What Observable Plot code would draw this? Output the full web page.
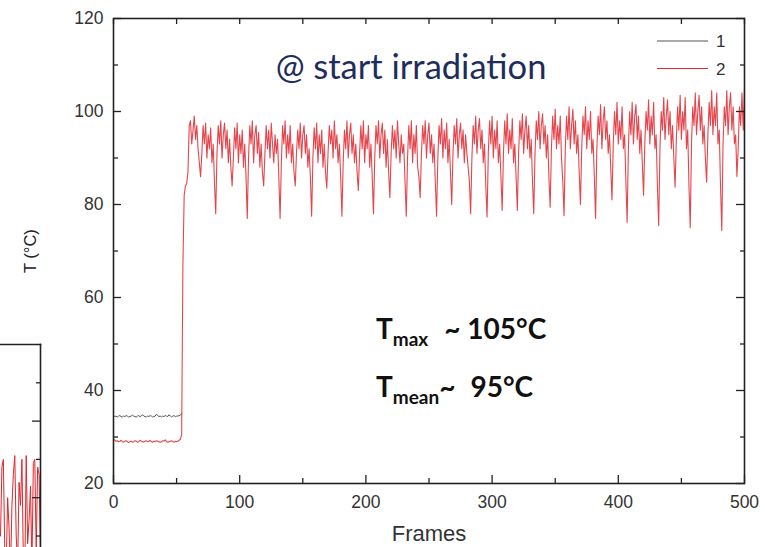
<!DOCTYPE html>
<html><head><meta charset="utf-8">
<script src="https://cdn.jsdelivr.net/npm/d3@7"></script>
<script src="https://cdn.jsdelivr.net/npm/@observablehq/plot@0.6"></script>
<style>
body{margin:0;background:#fff;}
#wrap{position:relative;width:765px;height:547px;overflow:hidden;font-family:"Liberation Sans",Arial,sans-serif;}
#wrap > svg{position:absolute;}
.ann{position:absolute;font-family:Lato,"Open Sans",sans-serif;font-weight:bold;color:#111;font-size:28px;white-space:nowrap;line-height:1;}
.ann sub{font-size:19px;vertical-align:-0.36em;line-height:0;}
</style></head><body><div id="wrap"></div>
<script>
// ---- data ----
const seriesNames = ["1", "2"];
const seriesColors = ["#555555", "#e0262e"];
const xMajor = [0, 100, 200, 300, 400, 500];
const xMinor = [50, 150, 250, 350, 450];
const yMajor = [20, 40, 60, 80, 100, 120];
const yMinor = [30, 50, 70, 90, 110];

// series 1 (frames 0..54)
const black = [34.6,34.4,34.5,34.3,34.5,34.6,34.4,34.3,34.5,34.4,34.6,34.5,34.3,34.4,34.5,34.7,34.5,34.4,34.3,34.5,34.6,34.4,34.5,34.8,34.5,34.4,34.3,34.5,34.4,34.6,34.5,34.3,34.4,34.5,34.9,34.6,34.4,34.5,34.3,34.5,34.4,34.6,34.5,34.4,34.8,34.5,34.3,34.5,34.6,34.4,34.5,34.5,34.6,34.7,35.0];
// series 2, frames 0..54 (before irradiation)
const redPre = [29.6,29.3,29.1,29.2,29.0,29.1,29.3,29.0,28.9,29.1,29.2,29.0,28.8,29.0,29.1,28.9,29.0,29.2,29.1,28.9,29.0,29.3,29.1,29.0,28.9,29.1,29.2,29.0,29.1,29.3,29.0,28.9,29.1,29.0,29.2,29.1,29.0,28.9,29.0,29.2,29.1,29.4,29.0,28.9,29.0,29.1,29.2,29.0,28.9,29.1,29.0,29.1,29.3,29.5,30.5];
// series 2, frames 55..500
const redPost = [
67,82,84,84.5,87,97,98,93,96,99,94,97,92,89,
86,91,97,93,97.5,90,95,92,96.5,89,93,85,
78,91,97,93,98,90,95,97.5,92,96,89,94,88,
84,90,96.5,92,97.5,89,95,91,96,88,93,86,
77,90,97,93,98,89,95,97,91,95.5,88,93,87,
84,91,97,92,96,90,97.5,93,89,95,91,94,86,
77,89,97,93,98,90,95,91,97,89,93,87,
84,91,96,92,97.5,90,95,97,91,95,88,92,86,
77.5,90,96.5,92,97.5,89,95,91,96,88,93,87,
83.5,91,97,93,96,90,98,92,95,89,93,86,
77.5,89,96,92,98,90,95,97.5,91,95,89,93,87,
83,91,97,92,98,89,95,92,97,88,93,86,
78,90,97,93,98,90,95,97.5,91,96,88,94,87,
81.5,91,97,92,96,90,98,93,89,95,91,93,85,
77.5,90,97,92,98,89,95,91,97,88,86,
81.5,91,97,93,98,90,95,97.5,91,95,89,93,85,
77.5,90,97,93,98.5,90,96,92,97.5,89,94,87,
80,91,97,93,98.5,90,95,97.5,92,96,89,95,91,88,85,
78,90,97,93,99,91,96,98.5,92,96,89,93,84,
77.3,91,98,93,99,90,96,92,98,89,93,86,
78.7,91,98,93,99.5,91,96,92,98.5,89,93,86,
78.7,91,98,94,99.5,91,96,99,92,97,90,94,85,
78,91,98,94,100,92,97,99.5,93,97,90,95,86,
79.4,92,99,94,100.5,92,97,93,99,90,85,
77.6,92,99,94,101,92,97,100.5,93,98,91,95,87,
80,92,99,95,101,92,98,94,100,91,94,86,
77,92,99,95,101.5,92,98,101,94,98,91,95,88,
81,93,100,95,102,93,98,94,101,92,95,85,
76.2,92,100,95,102,93,99,101.5,94,99,91,96,89,
82,93,100,96,102.5,93,99,95,102,92,95,84,
75.5,92,100,96,103,94,99,102.5,95,100,92,97,90,
83.7,94,101,96,103.5,94,100,96,103,92,96,84,
75,93,101,97,104,95,100,103.5,96,101,93,97,90,
84.8,95,102,97,104.5,95,101,97,104,93,96,84,
74.4,93,101,97,104.5,95,101,104,96,101,93,95,86,
92,101,97,104,96,105];

// fragment of the neighbouring chart (bottom-left edge)
const leftT = [70,88,90,66,62,80,72,60,78,86,91,70,62,84,78,90,64,60,91,68,74,83,62,89,90,66,88,86,64];
const leftMajor = [80, 100];
const leftMinor = [70, 90, 110];

// ---- build tables ----
const s1 = black.map((t, i) => ({frame: i, t, s: seriesNames[0]}));
const s2 = redPre.concat(redPost).map((t, i) => ({frame: i, t, s: seriesNames[1]}));
const leftData = leftT.map((t, i) => ({i, t}));

const wrap = document.getElementById("wrap");
const axisColor = "#222";
const noText = () => "";
const tk = {stroke: axisColor, strokeWidth: 1.3, tickFormat: noText};

const main = Plot.plot({
  width: 765, height: 547,
  marginLeft: 113, marginRight: 21, marginTop: 18, marginBottom: 64,
  style: {fontFamily: "Liberation Sans, Arial, sans-serif", background: "transparent"},
  x: {domain: [0, 500], label: null},
  y: {domain: [20, 120], label: null},
  marks: [
    Plot.line(s1, {x: "frame", y: "t", stroke: seriesColors[0], strokeWidth: 1}),
    Plot.line(s2, {x: "frame", y: "t", stroke: seriesColors[1], strokeWidth: 1.1, strokeOpacity: 0.85}),
    Plot.frame({stroke: axisColor, strokeWidth: 1.6}),
    Plot.axisX(xMajor, {...tk, anchor: "bottom", tickSize: 8, dy: -8}),
    Plot.axisX(xMinor, {...tk, anchor: "bottom", tickSize: 5, dy: -5}),
    Plot.axisX(xMajor.concat(xMinor), {...tk, anchor: "top", tickSize: 5, dy: 5}),
    Plot.axisY(yMajor, {...tk, anchor: "left", tickSize: 8, dx: 8}),
    Plot.axisY(yMinor, {...tk, anchor: "left", tickSize: 5, dx: 5}),
    Plot.axisY(yMajor, {...tk, anchor: "right", tickSize: 9, dx: -9}),
    Plot.axisY(yMinor, {...tk, anchor: "right", tickSize: 5, dx: -5}),
    Plot.axisX(xMajor, {anchor: "bottom", tickSize: 0, tickPadding: 12, fontSize: 17.5, fill: "#333"}),
    Plot.axisY(yMajor, {anchor: "left", tickSize: 0, tickPadding: 10, fontSize: 17.5, fill: "#333"}),
    Plot.text(["T (°C)"], {frameAnchor: "left", dx: -83, dy: 22, rotate: -90, fontSize: 16.5, fill: "#222"}),
    Plot.text(["Frames"], {frameAnchor: "bottom", dy: 57, fontSize: 22, fill: "#333"}),
    Plot.text(["@ start irradiation"], {frameAnchor: "top", dx: -18, dy: 36, fontSize: 34.5, fill: "#1f2d5c", fontFamily: "Lato, Open Sans, sans-serif"})
  ]
});
main.style.left = "0px"; main.style.top = "0px";
wrap.appendChild(main);

const left = Plot.plot({
  width: 42, height: 204,
  marginLeft: 0, marginRight: 2, marginTop: 1, marginBottom: 0,
  style: {background: "transparent"},
  x: {domain: [0, 28], label: null, axis: null},
  y: {domain: [67, 120], label: null},
  marks: [
    Plot.line(leftData, {x: "i", y: "t", stroke: seriesColors[1], strokeWidth: 1, clip: true}),
    Plot.frame({anchor: "top", stroke: axisColor, strokeWidth: 1.6}),
    Plot.frame({anchor: "right", stroke: axisColor, strokeWidth: 1.6}),
    Plot.axisY(leftMajor, {...tk, anchor: "right", tickSize: 9, dx: -9}),
    Plot.axisY(leftMinor, {...tk, anchor: "right", tickSize: 5, dx: -5})
  ]
});
left.style.left = "0px"; left.style.top = "343px";
wrap.appendChild(left);

// legend
const ns = "http://www.w3.org/2000/svg";
const leg = document.createElementNS(ns, "svg");
leg.setAttribute("width", 90); leg.setAttribute("height", 60);
leg.style.left = "650px"; leg.style.top = "25px";
seriesNames.forEach((name, i) => {
  const y = 16 + i * 27.5;
  const l = document.createElementNS(ns, "line");
  l.setAttribute("x1", 7); l.setAttribute("x2", 58);
  l.setAttribute("y1", y); l.setAttribute("y2", y);
  l.setAttribute("stroke", seriesColors[i]); l.setAttribute("stroke-width", 1.2);
  leg.appendChild(l);
  const t = document.createElementNS(ns, "text");
  t.setAttribute("x", 66); t.setAttribute("y", y + 6);
  t.setAttribute("font-size", 17); t.setAttribute("fill", "#333");
  t.setAttribute("font-family", "Liberation Sans, Arial, sans-serif");
  t.textContent = name;
  leg.appendChild(t);
});
wrap.appendChild(leg);

// annotations
const a1 = document.createElement("div");
a1.className = "ann"; a1.style.left = "376px"; a1.style.top = "314px";
a1.innerHTML = 'T<sub>max</sub><span style="margin-left:16px">~ 105°C</span>';
wrap.appendChild(a1);
const a2 = document.createElement("div");
a2.className = "ann"; a2.style.left = "376px"; a2.style.top = "372px";
a2.innerHTML = 'T<sub>mean</sub>~<span style="margin-left:15px">95°C</span>';
wrap.appendChild(a2);
</script></body></html>
